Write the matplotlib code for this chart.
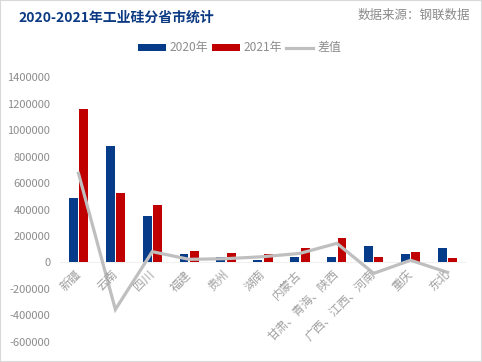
import matplotlib.pyplot as plt
from matplotlib.ticker import FuncFormatter, MultipleLocator
from matplotlib.patches import Rectangle
import numpy as np

plt.rcParams['font.family'] = ['Noto Sans CJK SC', 'DejaVu Sans']

provinces = ["新疆", "云南", "四川", "福建", "贵州", "湖南", "内蒙古",
             "甘肃、青海、陕西", "广西、江西、河南", "重庆", "东北"]
y2020 = [487000, 879000, 351000, 60000, 40000, 17000, 38000, 38000, 121000, 60000, 106000]
y2021 = [1161000, 523000, 432000, 83000, 68000, 60000, 106000, 182000, 38000, 76000, 30000]
diff = [674000, -356000, 81000, 23000, 28000, 43000, 68000, 144000, -83000, 16000, -76000]

blue = "#063B8A"
red = "#C00000"
grey_line = "#BFBFBF"
grey_text = "#8C8C8C"

fig = plt.figure(figsize=(4.82, 3.62), dpi=100)
ax = fig.add_axes([60 / 482, 20.3 / 362, 406 / 482, 264.4 / 362])

x = np.arange(len(provinces))
w = 0.24
b1 = ax.bar(x - 0.14, y2020, w, color=blue, label="2020年", zorder=2)
b2 = ax.bar(x + 0.14, y2021, w, color=red, label="2021年", zorder=2)
ln, = ax.plot(x, diff, color=grey_line, lw=2.3, label="差值", zorder=3,
              solid_joinstyle="miter")
ax.axhline(0, color="#F0F0F0", lw=0.8, zorder=1)

ax.set_xlim(-0.5, len(provinces) - 0.5)
ax.set_ylim(-600000, 1400000)
ax.yaxis.set_major_locator(MultipleLocator(200000))
ax.yaxis.set_major_formatter(FuncFormatter(lambda v, p: f"{int(round(v))}"))
ax.tick_params(axis="y", length=0, labelsize=8, labelcolor=grey_text, pad=7)
ax.set_xticks([])
for s in ax.spines.values():
    s.set_visible(False)

for i, name in enumerate(provinces):
    ax.annotate(name, (i - 0.12, 0), xytext=(0, -4), textcoords="offset points",
                rotation=45, ha="right", va="top", rotation_mode="anchor",
                fontsize=8.5, color="#A0A0A0")

fig.text(18 / 482, 1 - 18 / 362, "2020-2021年工业硅分省市统计", fontsize=10,
         fontweight="bold", color="#0B3A82", ha="left", va="center")
fig.text(470 / 482, 1 - 15 / 362, "数据来源：钢联数据", fontsize=9,
         color="#8A8A8A", ha="right", va="center")

leg = fig.legend([b1, b2, ln], ["2020年", "2021年", "差值"], loc="center",
                 bbox_to_anchor=(0.497, 1 - 48 / 362), ncol=3, frameon=False,
                 fontsize=8.6, handlelength=2.3, handleheight=0.55,
                 handletextpad=0.3, columnspacing=0.35, labelcolor=grey_text)

fig.patches.append(Rectangle((0, 0), 1, 1, transform=fig.transFigure,
                             fill=False, edgecolor="#D9D9D9", lw=1.5))

fig.savefig("out.png", dpi=100)
